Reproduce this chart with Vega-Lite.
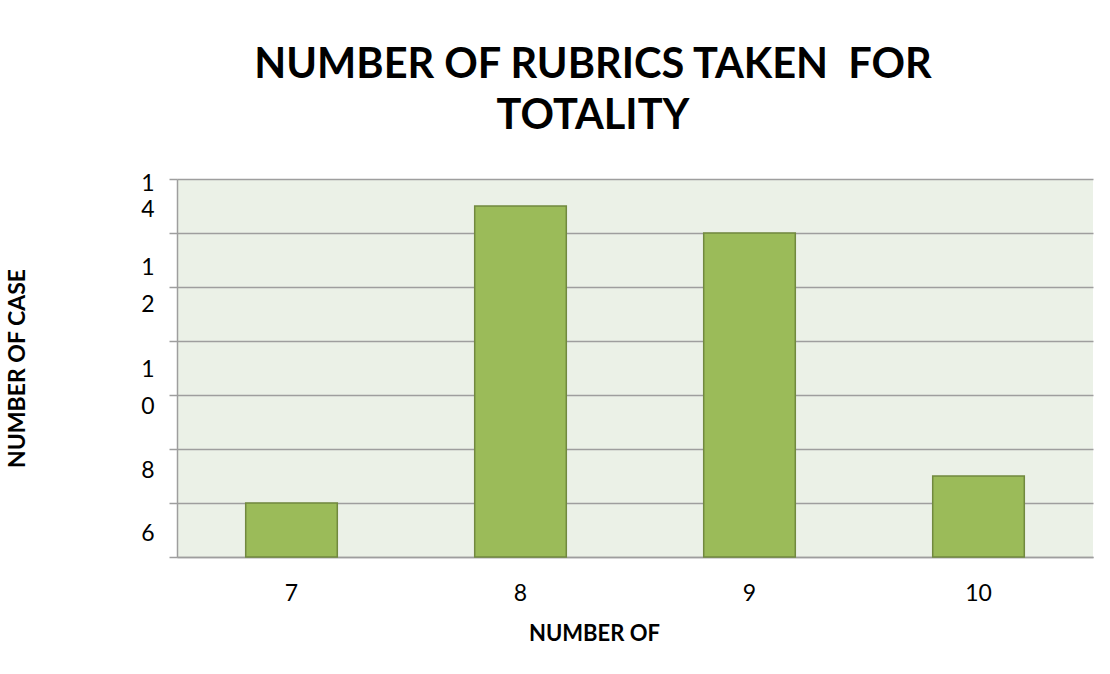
{
  "$schema": "https://vega.github.io/schema/vega-lite/v6.json",
  "width": 916,
  "height": 378,
  "autosize": {"type": "none"},
  "padding": {"left": 177, "top": 179, "right": 17, "bottom": 117},
  "background": "white",
  "title": {
    "text": ["NUMBER OF RUBRICS TAKEN\u00a0 FOR", "TOTALITY"],
    "font": "Lato",
    "fontSize": 41.5,
    "fontWeight": "bold",
    "color": "#000000",
    "lineHeight": 51,
    "anchor": "middle",
    "dx": -42,
    "offset": 35
  },
  "data": {
    "values": [
      {"rubrics": 7, "cases": 8},
      {"rubrics": 8, "cases": 13.5},
      {"rubrics": 9, "cases": 13},
      {"rubrics": 10, "cases": 8.5}
    ]
  },
  "mark": {"type": "bar", "fill": "#9BBB59", "stroke": "#71893F", "strokeWidth": 1.5},
  "encoding": {
    "x": {
      "field": "rubrics",
      "type": "ordinal",
      "sort": "ascending",
      "scale": {"paddingInner": 0.6, "paddingOuter": 0.3},
      "axis": {
        "title": "NUMBER OF",
        "labelAngle": 0,
        "labelFont": "Lato",
        "labelFontSize": 23,
        "labelColor": "#000000",
        "labelPadding": 25,
        "ticks": false,
        "domain": true,
        "domainColor": "#9E9E9E",
        "domainWidth": 1.5,
        "titleFont": "Lato",
        "titleFontSize": 22,
        "titleFontWeight": "bold",
        "titleColor": "#000000",
        "titleX": 417,
        "titlePadding": 18
      }
    },
    "y": {
      "field": "cases",
      "type": "quantitative",
      "scale": {"domain": [7, 14], "nice": false, "zero": false},
      "axis": {
        "values": [7, 8, 9, 10, 11, 12, 13, 14],
        "grid": true,
        "gridColor": "#9E9E9E",
        "gridWidth": 1.5,
        "tickColor": "#9E9E9E",
        "tickSize": 8,
        "tickWidth": 1.5,
        "domainColor": "#9E9E9E",
        "domainWidth": 1.5,
        "labelExpr": "datum.value == 14 ? '1' : datum.value == 13 ? '4' : datum.value == 12 ? ['1','2'] : datum.value == 10 ? ['1','0'] : datum.value == 8 ? '8' : datum.value == 7 ? '6' : ''",
        "labelOffset": {
          "condition": [
            {"test": "datum.value == 14", "value": 4},
            {"test": "datum.value == 13", "value": -23.5},
            {"test": "datum.value == 12", "value": -19.5},
            {"test": "datum.value == 10", "value": -26},
            {"test": "datum.value == 8", "value": -33},
            {"test": "datum.value == 7", "value": -24}
          ],
          "value": 0
        },
        "labelLineHeight": 37,
        "labelBaseline": "middle",
        "labelFont": "Lato",
        "labelFontSize": 23,
        "labelColor": "#000000",
        "labelPadding": 15,
        "labelOverlap": false,
        "title": "NUMBER OF CASE",
        "titleFont": "Lato",
        "titleFontSize": 23,
        "titleFontWeight": "bold",
        "titleColor": "#000000",
        "titlePadding": 111
      }
    },
    "y2": {"datum": 7}
  },
  "config": {"view": {"fill": "#EBF1E7", "stroke": null}}
}
